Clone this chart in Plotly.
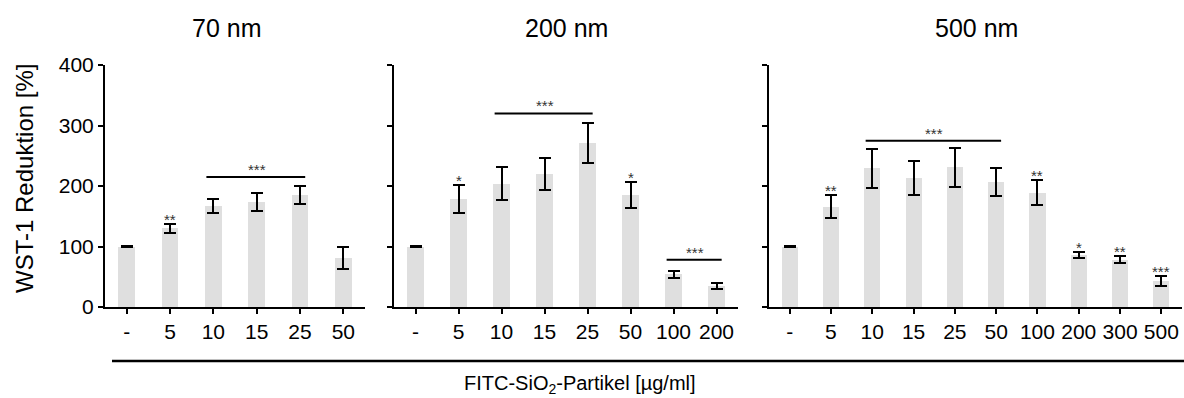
import plotly.graph_objects as go

# WST-1 reduction after exposure to FITC-SiO2 particles of three sizes
conc_70 = ["-", "5", "10", "15", "25", "50"]
mean_70 = [100, 130, 167, 173, 185, 81]
sd_70 = [0.5, 8, 12, 15, 15, 18]
stars_70 = ["", "**", "", "", "", ""]

conc_200 = ["-", "5", "10", "15", "25", "50", "100", "200"]
mean_200 = [100, 179, 204, 220, 271, 185, 54, 34]
sd_200 = [0.5, 23, 27, 26, 33, 22, 6, 5]
stars_200 = ["", "*", "", "", "", "*", "", ""]

conc_500 = ["-", "5", "10", "15", "25", "50", "100", "200", "300", "500"]
mean_500 = [100, 166, 229, 213, 231, 207, 189, 86, 78, 43]
sd_500 = [0.5, 19, 32, 28, 32, 23, 21, 5, 6, 8]
stars_500 = ["", "**", "", "", "", "", "**", "*", "**", "***"]

panel_titles = ["70 nm", "200 nm", "500 nm"]

# group brackets: (first index, last index, level, label)
brackets_70 = [(2, 4, 215, "***")]
brackets_200 = [(2, 4, 320, "***"), (6, 7, 78, "***")]
brackets_500 = [(2, 5, 275, "***")]

y_ticks = [0, 100, 200, 300, 400]

W, H = 1184, 398
FONT = "Liberation Sans, Arial, sans-serif"
BAR_COLOR = "#dfdfdf"
STAR_COLOR = "#333333"

panels = [
    (conc_70, mean_70, sd_70, stars_70, brackets_70, (105, 365), 226),
    (conc_200, mean_200, sd_200, stars_200, brackets_200, (394, 738), 566),
    (conc_500, mean_500, sd_500, stars_500, brackets_500, (769, 1182), 976),
]

plot_top, plot_bottom = 65, 307

fig = go.Figure()
shapes = []
annotations = []

for i, (conc, mean, sd, stars, brackets, (x0, x1), title_x) in enumerate(panels):
    n = i + 1
    xa = "x" if n == 1 else f"x{n}"
    ya = "y" if n == 1 else f"y{n}"
    idx = list(range(len(conc)))
    fig.add_trace(go.Bar(
        x=idx, y=mean, width=0.39,
        marker=dict(color=BAR_COLOR, line=dict(width=0)),
        error_y=dict(type="data", array=sd, visible=True, color="black",
                     thickness=2, width=6),
        xaxis=xa, yaxis=ya, showlegend=False, hoverinfo="skip",
    ))
    xkey = "xaxis" if n == 1 else f"xaxis{n}"
    ykey = "yaxis" if n == 1 else f"yaxis{n}"
    fig.layout[xkey] = dict(
        domain=[x0 / W, x1 / W], anchor=ya, range=[-0.5, len(conc) - 0.5],
        tickmode="array", tickvals=idx, ticktext=conc,
        showline=True, linecolor="black", linewidth=2,
        ticks="outside", ticklen=5, tickwidth=2, tickcolor="black",
        showgrid=False, zeroline=False, fixedrange=True,
        tickfont=dict(family=FONT, size=21, color="black"),
    )
    fig.layout[ykey] = dict(
        domain=[1 - plot_bottom / H, 1 - plot_top / H], anchor=xa,
        range=[0, 400], tickvals=y_ticks,
        showticklabels=(n == 1),
        showline=True, linecolor="black", linewidth=2,
        ticks="outside", ticklen=5, tickwidth=2, tickcolor="black",
        showgrid=False, zeroline=False, fixedrange=True,
        tickfont=dict(family=FONT, size=21, color="black"),
    )
    # per-bar significance marks
    for j, s in enumerate(stars):
        if s:
            annotations.append(dict(
                x=j, y=mean[j] + sd[j], xref=xa, yref=ya, text=s,
                showarrow=False, yanchor="bottom", yshift=-6,
                font=dict(family=FONT, size=15, color=STAR_COLOR),
            ))
    # bracket lines over groups of bars
    for a, b, level, label in brackets:
        shapes.append(dict(type="line", xref=xa, yref=ya,
                           x0=a - 0.16, x1=b + 0.12, y0=level, y1=level,
                           line=dict(color="black", width=2)))
        annotations.append(dict(
            x=(a + b) / 2, y=level, xref=xa, yref=ya, text=label,
            showarrow=False, yanchor="bottom", yshift=-3,
            font=dict(family=FONT, size=15, color=STAR_COLOR),
        ))
    annotations.append(dict(
        x=title_x / W, y=1 - 28 / H, xref="paper", yref="paper",
        text=panel_titles[i], showarrow=False, xanchor="center", yanchor="middle",
        font=dict(family=FONT, size=25, color="black"),
    ))

# y axis title
annotations.append(dict(
    x=24 / W, y=1 - 179 / H, xref="paper", yref="paper",
    text="WST-1 Reduktion [%]", textangle=-90, showarrow=False,
    xanchor="center", yanchor="middle",
    font=dict(family=FONT, size=24, color="black"),
))

# shared concentration axis label
shapes.append(dict(type="line", xref="paper", yref="paper",
                   x0=112 / W, x1=1, y0=1 - 361 / H, y1=1 - 361 / H,
                   line=dict(color="black", width=2.5)))
annotations.append(dict(
    x=580 / W, y=1 - 384 / H, xref="paper", yref="paper",
    text="FITC-SiO<sub>2</sub>-Partikel [µg/ml]", showarrow=False,
    xanchor="center", yanchor="middle",
    font=dict(family=FONT, size=20, color="black"),
))

fig.update_layout(
    width=W, height=H,
    margin=dict(l=0, r=0, t=0, b=0, autoexpand=False),
    paper_bgcolor="white", plot_bgcolor="white",
    shapes=shapes, annotations=annotations, showlegend=False,
    bargap=0,
)

fig.write_html("out.html")
